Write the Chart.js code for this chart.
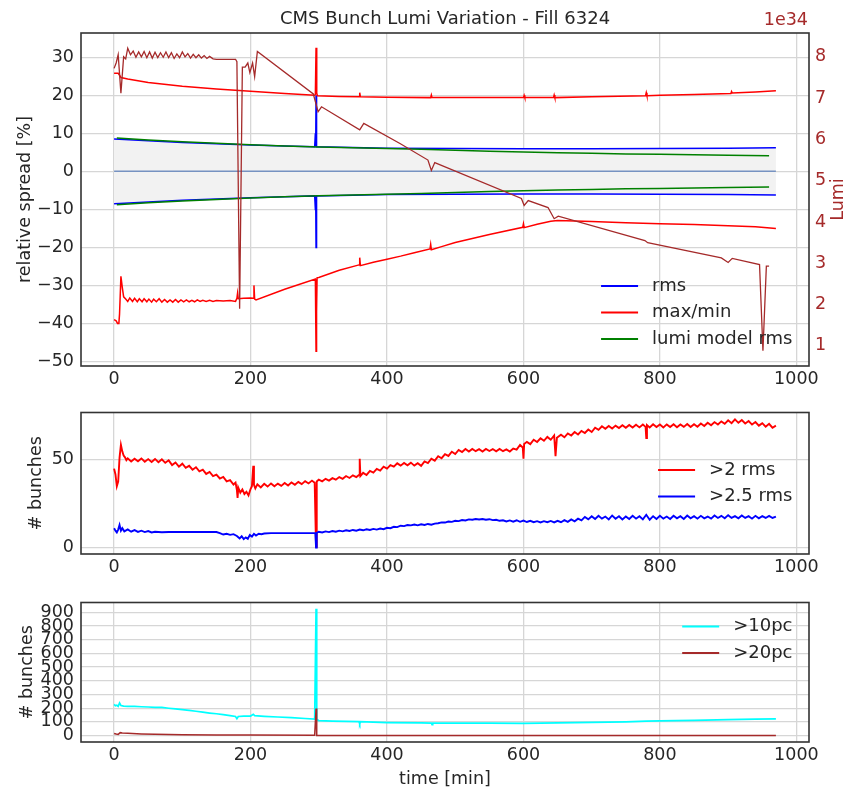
<!DOCTYPE html>
<html><head><meta charset="utf-8">
<script src="https://cdn.jsdelivr.net/npm/chart.js@4.4.0/dist/chart.umd.min.js"></script>
<style>
html,body{margin:0;padding:0;background:#fff;}
#wrap{position:relative;width:847px;height:792px;overflow:hidden;background:#fff;}
canvas{position:absolute;left:0;}
</style></head><body>
<div id="wrap">
<canvas id="c1" width="847" height="395" style="top:0px"></canvas>
<canvas id="c2" width="847" height="190" style="top:395px"></canvas>
<canvas id="c3" width="847" height="207" style="top:585px"></canvas>
</div>
<script>
// ---------------- DATA (time [min], value) ----------------
const xTicks = [0, 200, 400, 600, 800, 1000];
const spreadTicks = [-50, -40, -30, -20, -10, 0, 10, 20, 30];
const lumiTicks = [1, 2, 3, 4, 5, 6, 7, 8];
const bunchTicksMid = [0, 50];
const bunchTicksLow = [0, 100, 200, 300, 400, 500, 600, 700, 800, 900];

// rms spread [%] (plotted as +rms and -rms)
const rmsSpread = [[0,8.5],[8,8.45],[50,8.05],[100,7.6],[150,7.25],[200,6.95],[250,6.65],[294,6.45],[295,10],[295.5,6.5],[296,20],[296.5,10],[297,6.45],[350,6.25],[400,6.1],[500,6.0],[600,5.95],[700,5.95],[800,6.0],[900,6.1],[970,6.2]];
// lumi model rms [%] (plotted as +/-)
const modelRms = [[4,8.75],[50,8.25],[100,7.8],[150,7.4],[200,7.0],[250,6.7],[300,6.4],[350,6.2],[400,6.0],[450,5.8],[500,5.55],[550,5.3],[600,5.1],[650,4.9],[700,4.75],[750,4.6],[800,4.5],[850,4.35],[900,4.25],[960,4.1]];
// max relative deviation [%]
const maxSpread = [[0,25.8],[6,25.8],[8,25.3],[10,24.7],[20,24.3],[50,23.4],[100,22.4],[150,21.7],[200,21.1],[250,20.5],[294,20.0],[295,20.2],[296,32.5],[297,20.6],[298,19.9],[330,19.7],[359,19.6],[360,20.7],[361,19.6],[400,19.5],[464,19.4],[465,20.1],[466,19.4],[500,19.4],[600,19.4],[601,20.0],[602,19.4],[644,19.4],[645,20.1],[646,19.4],[700,19.6],[779,19.9],[780,20.7],[781,19.9],[800,20.0],[850,20.2],[904,20.5],[905,21.0],[906,20.6],[940,20.9],[970,21.2]];
// min relative deviation [%]
const minSpread = [[0,-39.0],[3,-39.3],[5,-40.0],[7,-40.0],[8,-37.5],[10,-27.6],[12,-30.5],[14,-33.0],[17,-33.6],[20,-34.2],[23,-33.3],[27,-34.2],[30,-33.4],[34,-34.3],[37,-33.5],[41,-34.3],[44,-33.5],[48,-34.3],[51,-33.6],[55,-34.4],[58,-33.6],[62,-34.3],[66,-33.5],[70,-34.4],[74,-33.7],[78,-34.4],[82,-33.8],[86,-34.4],[90,-33.7],[94,-34.4],[98,-33.8],[102,-34.3],[106,-33.8],[110,-34.3],[114,-33.9],[118,-34.3],[122,-33.8],[126,-34.2],[130,-33.9],[135,-34.2],[140,-33.9],[145,-34.2],[150,-34.0],[160,-34.1],[170,-34.0],[178,-34.2],[180,-33.4],[181,-32.0],[182,-33.5],[190,-33.4],[200,-33.3],[204,-33.4],[205,-30.0],[206,-33.6],[208,-33.8],[250,-31.0],[295,-28.3],[296,-47.3],[296.5,-28.4],[297,-36.8],[297.5,-28.0],[300,-27.9],[330,-26.0],[359,-24.6],[360,-22.7],[361,-24.8],[380,-23.9],[400,-23.1],[420,-22.3],[440,-21.4],[463,-20.4],[464,-19.2],[465,-20.6],[480,-19.8],[500,-18.7],[550,-16.6],[599,-14.7],[600,-13.8],[601,-14.8],[620,-13.9],[640,-13.1],[650,-12.9],[700,-13.2],[750,-13.5],[800,-13.8],[850,-14.0],[900,-14.3],[940,-14.6],[970,-15.0]];
// instantaneous luminosity [1e34]
const lumi = [[0,7.72],[3,7.85],[6,8.05],[10,7.12],[14,8.0],[17,7.95],[20,8.21],[24,8.05],[28,8.14],[32,7.99],[36,8.12],[40,8.0],[44,8.13],[48,7.98],[52,8.12],[56,7.97],[60,8.11],[64,7.98],[68,8.1],[72,7.99],[76,8.12],[80,7.98],[84,8.1],[88,7.96],[92,8.07],[96,7.98],[100,8.12],[104,8.0],[108,8.08],[112,7.97],[116,8.06],[120,7.98],[124,8.05],[128,7.97],[132,8.03],[136,7.96],[140,8.01],[145,7.95],[150,7.94],[178,7.94],[180,7.88],[184,1.9],[188,7.75],[192,7.75],[196,7.85],[199,7.62],[203,7.85],[206,7.52],[210,8.13],[292,7.1],[299,6.67],[304,6.79],[360,6.23],[366,6.39],[419,5.90],[460,5.50],[465,5.25],[470,5.44],[597,4.57],[601,4.40],[607,4.52],[636,4.35],[645,4.08],[651,4.14],[778,3.55],[782,3.5],[890,3.13],[900,3.02],[906,3.12],[946,2.97],[951,0.88],[956,2.93],[960,2.93]];

// # bunches > 2 rms
const over2rms = [[0,44.8],[2,41.5],[4,34.8],[6,37.5],[8,51],[10,58.3],[12,54.6],[14,52.2],[16,51.2],[18,49.6],[20,50.6],[25,48.9],[30,50.4],[35,49.0],[40,50.6],[45,48.7],[50,50.2],[55,48.6],[60,50.3],[65,48.4],[70,50.1],[75,48.1],[80,49.5],[85,46.8],[90,48.3],[95,45.9],[100,47.6],[105,45.3],[110,46.4],[115,44.2],[120,45.6],[125,43.3],[130,44.2],[135,41.8],[140,42.9],[145,40.6],[150,41.4],[155,39.2],[160,40.1],[165,37.6],[170,38.3],[175,35.8],[178,36.9],[180,32.6],[181,28.2],[182,34.0],[185,31.2],[188,33.0],[191,30.4],[194,31.6],[197,29.6],[200,33.2],[202,34.8],[204,46.4],[205,35.6],[207,33.6],[210,35.9],[215,34.1],[220,36.2],[225,34.6],[230,36.4],[235,34.8],[240,36.3],[245,35.0],[250,36.6],[255,35.2],[260,37.0],[265,35.6],[270,37.3],[275,36.0],[280,37.7],[285,36.4],[290,38.0],[294,36.8],[296,0.5],[297,37.5],[300,38.6],[305,37.6],[310,39.0],[315,38.0],[320,39.4],[325,38.5],[330,40.0],[335,39.0],[340,40.6],[345,39.5],[350,41.0],[355,40.0],[359,41.2],[360,50.4],[361,40.6],[365,42.4],[370,41.2],[375,43.5],[380,42.5],[385,44.6],[390,43.7],[395,45.9],[400,44.8],[405,46.8],[410,45.9],[415,47.8],[420,46.5],[425,48.0],[430,46.7],[435,48.2],[440,46.5],[445,47.9],[450,46.4],[455,48.9],[460,47.9],[465,50.4],[470,49.3],[475,51.8],[480,50.7],[485,53.0],[490,52.0],[495,54.4],[500,53.1],[505,55.4],[510,54.2],[515,55.9],[520,54.5],[525,56.0],[530,54.7],[535,55.8],[540,54.5],[545,56.0],[550,54.8],[555,55.9],[560,54.6],[565,56.0],[570,54.7],[575,55.7],[580,54.5],[585,56.2],[590,55.6],[595,58.2],[599,56.8],[600,50.4],[601,58.8],[605,60.0],[610,58.7],[615,61.2],[620,59.9],[625,62.0],[630,60.6],[635,62.8],[640,61.2],[645,63.6],[647,51.8],[649,62.3],[655,64.0],[660,62.6],[665,64.8],[670,63.6],[675,65.6],[680,64.2],[685,66.2],[690,65.0],[695,67.0],[700,65.6],[705,68.0],[710,66.8],[715,68.8],[720,67.4],[725,69.0],[730,67.6],[735,69.2],[740,67.8],[745,69.4],[750,68.0],[755,69.6],[760,68.1],[765,69.7],[770,68.2],[775,69.8],[779,68.5],[780,62.2],[781,69.5],[785,68.2],[790,70.0],[795,68.4],[800,69.8],[805,68.2],[810,69.9],[815,68.4],[820,70.0],[825,68.3],[830,69.9],[835,68.5],[840,70.1],[845,68.4],[850,70.0],[855,68.6],[860,70.4],[865,69.0],[870,70.8],[875,69.4],[880,71.2],[885,69.8],[890,71.6],[895,70.2],[900,72.2],[905,70.6],[910,72.8],[915,70.8],[920,72.4],[925,70.4],[930,71.8],[935,69.8],[940,71.2],[945,69.2],[950,70.6],[955,68.6],[960,70.2],[965,68.0],[970,69.2]];
// # bunches > 2.5 rms
const over25rms = [[0,10.9],[2,9.6],[4,8.6],[6,10.2],[8,12.8],[10,9.6],[12,11.0],[15,9.2],[20,10.3],[25,9.0],[30,9.9],[35,8.9],[40,9.6],[45,8.8],[50,9.4],[55,8.6],[60,9.0],[70,8.7],[80,8.8],[90,8.8],[100,8.8],[110,8.8],[120,8.8],[130,8.8],[140,8.8],[150,8.8],[155,8.2],[160,7.4],[165,7.8],[170,7.2],[175,7.6],[180,6.6],[184,5.2],[187,6.4],[190,4.8],[193,5.8],[196,5.0],[199,7.2],[202,6.2],[205,7.8],[208,6.8],[212,7.8],[216,7.6],[220,8.0],[230,8.2],[250,8.2],[270,8.2],[295,8.2],[296,0],[297,8.4],[300,9.0],[305,8.6],[310,9.2],[315,8.8],[320,9.4],[325,9.0],[330,9.6],[335,9.2],[340,9.8],[345,9.4],[350,10.0],[355,9.6],[360,10.2],[365,9.8],[370,10.4],[375,10.0],[380,10.6],[385,10.2],[390,10.8],[395,10.4],[400,11.2],[405,11.0],[410,11.8],[415,11.6],[420,12.4],[425,12.2],[430,12.8],[435,12.6],[440,13.1],[445,12.6],[450,13.2],[455,12.8],[460,13.4],[465,13.0],[470,13.6],[475,13.8],[480,14.3],[485,14.2],[490,14.8],[495,14.6],[500,15.2],[505,15.0],[510,15.6],[515,15.4],[520,16.0],[525,15.8],[530,16.2],[535,15.9],[540,16.2],[545,15.8],[550,16.1],[555,15.6],[560,15.8],[565,15.2],[570,15.5],[575,14.8],[580,15.4],[585,14.7],[590,15.5],[595,14.6],[600,15.3],[605,14.5],[610,15.2],[615,14.4],[620,15.0],[625,14.3],[630,15.0],[635,14.4],[640,15.1],[645,14.3],[650,15.2],[655,14.4],[660,15.6],[665,14.6],[670,16.0],[675,14.9],[680,16.4],[685,15.4],[690,17.4],[695,16.0],[700,17.8],[705,16.2],[710,18.0],[715,16.4],[720,17.6],[725,16.0],[730,18.2],[735,16.4],[740,17.8],[745,16.0],[750,17.6],[755,16.2],[760,18.0],[765,16.4],[770,17.8],[775,16.0],[780,18.6],[785,15.8],[790,17.8],[795,16.2],[800,18.0],[805,16.4],[810,17.6],[815,16.2],[820,18.0],[825,16.6],[830,17.8],[835,16.2],[840,18.2],[845,16.6],[850,17.8],[855,16.4],[860,18.0],[865,16.6],[870,17.6],[875,16.4],[880,18.2],[885,16.8],[890,18.0],[895,16.6],[900,18.4],[905,16.8],[910,17.8],[915,16.6],[920,18.2],[925,16.8],[930,17.8],[935,16.4],[940,18.0],[945,16.6],[950,17.8],[955,16.8],[960,18.0],[965,16.8],[970,17.6]];
// # bunches > 10 percent
const over10pc = [[0,228],[2,218],[4,222],[6,214],[8,238],[10,220],[14,216],[20,214],[30,213],[40,211],[50,209],[60,207],[70,206],[80,200],[90,195],[100,190],[110,184],[120,178],[130,171],[140,165],[150,160],[160,153],[170,146],[178,140],[180,124],[182,140],[190,142],[200,143],[204,156],[206,146],[220,141],[240,136],[260,131],[280,125],[294,121],[296,925],[297,118],[300,110],[320,106],[340,104],[359,102],[360,86],[361,102],[380,98],[400,95],[450,93],[465,92],[466,80],[467,92],[500,92],[550,91],[600,90],[650,93],[700,97],[750,101],[780,106],[800,108],[850,112],[900,117],[940,120],[970,122]];
// # bunches > 20 percent
const over20pc = [[0,16],[3,12],[6,9],[9,22],[12,20],[20,18],[40,13],[60,10],[100,7],[150,5],[200,4],[294,3],[296,198],[297,2],[400,2],[970,2]];

// ---------------- STYLE ----------------
const FONT = 'DejaVu Sans';
const TXT = '#262626';
const GRID = '#d6d6d6';
const BROWN = '#a52a2a';
const X_MIN = -48.5, X_MAX = 1018.5;
Chart.defaults.font.family = FONT;
Chart.defaults.color = TXT;

const pts = a => a.map(p => ({x: p[0], y: p[1]}));
const neg = a => a.map(p => ({x: p[0], y: -p[1]}));
const fixedTicks = vals => scale => { scale.ticks = vals.map(v => ({value: v})); };
const fmt = v => (v < 0 ? '\u2212' + Math.abs(v) : String(v));

function line(label, data, color, order, extra) {
  return Object.assign({label, data, borderColor: color, backgroundColor: color, borderWidth: 1.5,
    pointRadius: 0, tension: 0, fill: false, order}, extra || {});
}

function xScale(h, title) {
  return {
    type: 'linear', position: 'bottom', min: X_MIN, max: X_MAX,
    afterBuildTicks: fixedTicks(xTicks),
    afterFit: s => { s.height = h; },
    grid: {color: GRID, lineWidth: 1.3, drawTicks: false},
    border: {display: false},
    ticks: {font: {size: 17.5}, color: TXT, padding: 3, autoSkip: false, maxRotation: 0, callback: fmt},
    title: title ? {display: true, text: title, font: {size: 17.5}, color: TXT, padding: {top: 0, bottom: 2.5}} : {display: false}
  };
}
function yScale(min, max, ticks, title, titlePad) {
  return {
    type: 'linear', position: 'left', min, max,
    afterBuildTicks: fixedTicks(ticks),
    afterFit: s => { s.width = 81; },
    grid: {color: GRID, lineWidth: 1.3, drawTicks: false},
    border: {display: false},
    ticks: {font: {size: 17.5}, color: TXT, padding: 7, autoSkip: false, callback: fmt},
    title: {display: true, text: title, font: {size: 17.5}, color: TXT, padding: {top: titlePad, bottom: 0}}
  };
}

const framePlugin = {
  id: 'frame',
  afterDatasetsDraw(chart) {
    const {ctx, chartArea: a} = chart;
    ctx.save();
    ctx.strokeStyle = '#333333';
    ctx.lineWidth = 1.6;
    ctx.strokeRect(a.left, a.top, a.right - a.left, a.bottom - a.top);
    ctx.restore();
  }
};
const legendPlugin = {
  id: 'inlegend',
  afterDatasetsDraw(chart, args, o) {
    const {ctx, chartArea: a} = chart;
    ctx.save();
    ctx.font = '18px "DejaVu Sans"';
    const items = o.items.map(i => chart.data.datasets[i]);
    const maxW = Math.max(...items.map(d => ctx.measureText(d.label).width));
    const textX = a.right - 16.5 - maxW;
    const rowH = 26.5;
    let y0;
    if (o.v === 'bottom') y0 = a.bottom - o.pad - (items.length - 1) * rowH;
    else if (o.v === 'top') y0 = a.top + o.pad;
    else y0 = (a.top + a.bottom) / 2 - (items.length - 1) * rowH / 2;
    items.forEach((d, k) => {
      const y = y0 + k * rowH;
      ctx.strokeStyle = d.borderColor;
      ctx.lineWidth = 2;
      ctx.beginPath(); ctx.moveTo(textX - 51, y); ctx.lineTo(textX - 14, y); ctx.stroke();
      ctx.fillStyle = TXT; ctx.textAlign = 'left'; ctx.textBaseline = 'middle';
      ctx.fillText(d.label, textX, y);
    });
    ctx.restore();
  }
};
const lumiTextPlugin = {
  id: 'lumiText',
  afterDraw(chart) {
    const {ctx, chartArea: a} = chart;
    ctx.save();
    ctx.fillStyle = BROWN;
    ctx.font = '17.5px "DejaVu Sans"';
    ctx.textAlign = 'right'; ctx.textBaseline = 'middle';
    ctx.fillText('1e34', a.right - 1, 20);
    ctx.translate(838, (a.top + a.bottom) / 2);
    ctx.rotate(-Math.PI / 2);
    ctx.textAlign = 'center';
    ctx.fillText('Lumi', 0, 0);
    ctx.restore();
  }
};

const common = {
  responsive: false, animation: false, devicePixelRatio: 1, events: [],
};

// ---------------- TOP PANEL ----------------
new Chart(document.getElementById('c1'), {
  type: 'line',
  data: {datasets: [
    line('lumi', pts(lumi), BROWN, 0, {yAxisID: 'y2', borderWidth: 1.3}),
    line('lumi model rms', pts(modelRms), '#008000', 1),
    line('', neg(modelRms), '#008000', 1),
    line('max/min', pts(maxSpread), '#ff0000', 2),
    line('', pts(minSpread), '#ff0000', 2),
    line('rms', pts(rmsSpread), '#0000ff', 3),
    line('', neg(rmsSpread), '#0000ff', 3, {fill: {target: 5}, backgroundColor: '#f2f2f2'}),
    line('', [{x: 0, y: 0}, {x: 970, y: 0}], 'rgba(76,114,176,0.75)', 4)
  ]},
  options: Object.assign({}, common, {
    layout: {padding: 0},
    plugins: {
      legend: {display: false}, tooltip: {enabled: false},
      filler: {drawTime: 'beforeDatasetsDraw'},
      title: {display: true, text: 'CMS Bunch Lumi Variation - Fill 6324', fullSize: false,
        font: {size: 18, weight: 'normal'}, color: TXT, padding: {top: 8.2, bottom: 3.2}},
      inlegend: {items: [5, 3, 1], v: 'bottom', pad: 27}
    },
    scales: {
      x: xScale(29),
      y: yScale(-51.2, 36.4, spreadTicks, 'relative spread [%]', 14.5),
      y2: {
        type: 'linear', position: 'right', min: 0.513, max: 8.577,
        afterBuildTicks: fixedTicks(lumiTicks),
        afterFit: s => { s.width = 38; },
        grid: {display: false, drawTicks: false},
        border: {display: false},
        ticks: {font: {size: 17.5}, color: BROWN, padding: 6, autoSkip: false}
      }
    }
  }),
  plugins: [framePlugin, legendPlugin, lumiTextPlugin]
});

// ---------------- MIDDLE PANEL ----------------
new Chart(document.getElementById('c2'), {
  type: 'line',
  data: {datasets: [
    line('>2 rms', pts(over2rms), '#ff0000', 1, {borderWidth: 1.9}),
    line('>2.5 rms', pts(over25rms), '#0000ff', 0, {borderWidth: 1.9})
  ]},
  options: Object.assign({}, common, {
    layout: {padding: {top: 14, right: 38, left: 0, bottom: 0}},
    plugins: {legend: {display: false}, tooltip: {enabled: false},
      inlegend: {items: [0, 1], v: 'center'}},
    scales: {
      x: xScale(31),
      y: yScale(-3.65, 76.65, bunchTicksMid, '# bunches', 26)
    }
  }),
  plugins: [framePlugin, legendPlugin]
});

// ---------------- BOTTOM PANEL ----------------
new Chart(document.getElementById('c3'), {
  type: 'line',
  data: {datasets: [
    line('>10pc', pts(over10pc), '#00ffff', 1, {borderWidth: 1.7}),
    line('>20pc', pts(over20pc), BROWN, 0)
  ]},
  options: Object.assign({}, common, {
    layout: {padding: {top: 12, right: 38, left: 0, bottom: 0}},
    plugins: {legend: {display: false}, tooltip: {enabled: false},
      inlegend: {items: [0, 1], v: 'top', pad: 24}},
    scales: {
      x: xScale(50, 'time [min]'),
      y: yScale(-46.25, 971.25, bunchTicksLow, '# bunches', 16.5)
    }
  }),
  plugins: [framePlugin, legendPlugin]
});
</script>
</body></html>
